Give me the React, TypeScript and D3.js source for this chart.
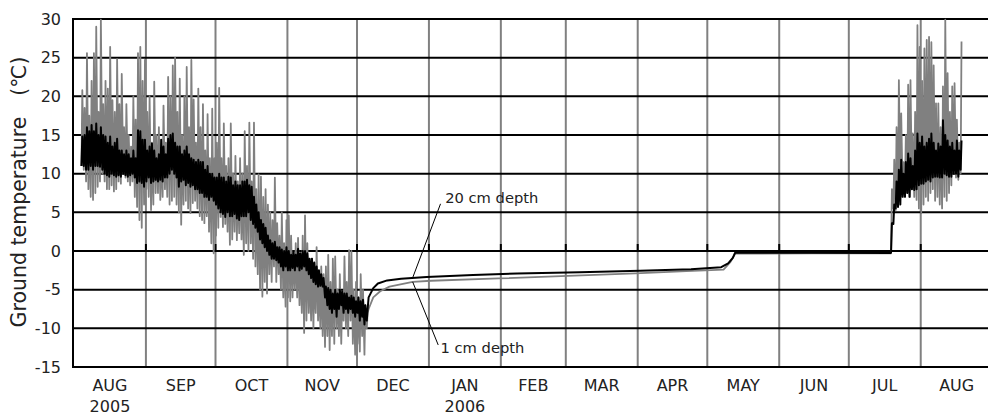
import * as d3 from "d3";

// month labels along the bottom, first one is Aug 2005
const monthLabels = ["AUG", "SEP", "OCT", "NOV", "DEC", "JAN", "FEB", "MAR", "APR", "MAY", "JUN", "JUL", "AUG"];
const yearLabels: [number, string][] = [[0, "2005"], [5, "2006"]];
const yTicks = [-15, -10, -5, 0, 5, 10, 15, 20, 25, 30];

// autumn 2005: daily min / max, starting 2005-08-04
const autumnStart = "2005-08-04";
const shallowAutumnMax = [
  20.8, 18.5, 25.6, 17.5, 22, 25.6, 29, 18, 29.9, 19,
  22, 21, 26.4, 19.5, 18, 24.8, 19, 22.9, 16, 19,
  15, 13.5, 20, 17, 25.6, 26.4, 22, 24.7, 18, 20,
  14, 21.9, 15, 16, 13, 18.8, 14, 22.5, 20, 24,
  25, 18, 22.3, 15, 20, 23.8, 16, 24.7, 19.6, 14,
  21, 16, 19, 13, 17.7, 12, 18.4, 12, 14, 21.1,
  12, 16.5, 11, 12, 16.5, 10, 12.3, 9, 12, 10,
  15.5, 11, 16.6, 9, 16.6, 8, 9.9, 9.6, 7, 8,
  6, 5, 4, 9.5, 3.6, 2, 5, 1, 4, 4.6,
  2, 0, 1, 1.7, -1, 2, 4.6, 1, -2, -1,
  -3, 0.5, -4, -2, -3, -2, -0.5, -4, -1, -0.7,
  -5, -3, -6, -0.7, -4, 0.1, 0, -5, -4, -6,
  -3, -5, -7, -8,
];
const shallowAutumnMin = [
  11, 10.5, 9, 8, 7, 6.6, 7.5, 8.3, 9, 10,
  9, 8, 8, 8.5, 7.7, 8, 9, 8.7, 10, 9.5,
  9, 8.5, 9, 7, 5.7, 4, 3, 6, 8, 7,
  5.3, 6, 7.5, 7.5, 6.6, 7, 8, 7, 6, 6.5,
  7, 6, 5, 3.4, 6, 6.5, 5.5, 4.9, 6.2, 6.5,
  5.5, 4.5, 4, 3.6, 4.5, 2.5, 1, -0.3, 2, 3,
  4.4, 3.1, 3.5, 2.5, 0.8, 1.5, 2.5, 1.4, 2.3, 1.5,
  -0.5, 1, 0, 1, -1, -2, -3, -5, -5.9, -4,
  -5.5, -3, -4, -2, -4, -3, -5, -6, -7.2, -6,
  -6.5, -6, -5, -6, -7, -8, -10.6, -9, -8, -9,
  -10, -8, -9, -10, -11, -12.4, -11, -12.8, -11, -12,
  -10, -11, -12, -9, -10, -11, -9, -12, -13.4, -12,
  -13, -11, -13.4, -10,
];
const deepAutumnMax = [
  14.8, 15, 16, 15.5, 16.3, 15.5, 16.5, 15, 16, 15,
  14.8, 14, 14.8, 13.5, 14, 14.5, 13, 13, 12.5, 13,
  12.5, 12, 13, 12, 15.6, 15.5, 14.4, 14.4, 13, 13.5,
  13.9, 13, 12, 12.5, 14.4, 13.5, 12.5, 14.5, 15, 15.2,
  14, 13.5, 13.5, 12.5, 13, 13.5, 12.5, 12, 11.8, 11.5,
  11.8, 11.5, 11.5, 10.5, 11, 10, 10, 9.5, 9.5, 10,
  9.5, 9.5, 9, 9.6, 9.5, 8.5, 9, 8.5, 8.5, 9,
  9, 9.2, 8.5, 8.3, 7, 6, 5, 4, 3.5, 3,
  2, 1.4, 1, 1.2, 0.5, 0.5, 0.2, 0, 0.5, 0,
  -0.5, 0, -0.5, 0.3, -0.3, 0, 0, -0.3, -1, -1,
  -1.5, -2, -2.5, -3, -3.5, -4.6, -4.8, -5, -5.5, -5,
  -5.5, -5, -5.2, -5.5, -5.5, -6, -5.8, -6, -6.5, -6,
  -6.5, -6.3, -7, -7.5,
];
const deepAutumnMin = [
  11, 11, 10.5, 10.5, 11, 10.5, 11, 11, 10.9, 10.5,
  10, 9.8, 9.6, 10, 9.8, 9.6, 9.8, 9.6, 10, 9.8,
  9.6, 9.8, 10, 9.5, 8.8, 9, 8.8, 8.3, 9, 9.5,
  8.8, 9, 9.2, 9, 9.2, 9, 9.5, 9.5, 10, 10.5,
  10, 9.5, 8.3, 9, 9.2, 8.5, 8.8, 8.3, 8.5, 8,
  8, 7.5, 7.5, 7, 7, 6.6, 7, 6.5, 6, 5.5,
  5, 4.8, 4.4, 5, 4.5, 4.5, 4.8, 4.2, 4, 4.5,
  4.5, 4.5, 5, 4, 3.5, 3, 2.5, 1.5, 1, 0.5,
  0, -0.5, -1, -1, -1.2, -1.5, -2, -2.5, -2, -2.5,
  -2.5, -2.2, -2.5, -2, -2.5, -2.3, -2, -2.5, -3, -3.5,
  -4, -4.3, -4.6, -4.5, -4.6, -6, -7, -7.5, -8, -7.5,
  -8.5, -7.5, -7, -8, -7.5, -8, -7.5, -8, -8.5, -8,
  -9, -8.5, -9.5, -9,
];

// winter: snow-covered, smooth readings
const shallowWinter: [string, number][] = [
  ["2005-12-06", -7.5], ["2005-12-08", -6.0], ["2005-12-11", -5.2], ["2005-12-15", -4.6],
  ["2005-12-25", -4.0], ["2006-01-02", -3.85], ["2006-01-31", -3.55], ["2006-02-27", -3.25],
  ["2006-03-31", -2.9], ["2006-04-22", -2.6], ["2006-05-08", -2.4], ["2006-05-11", -1.4],
  ["2006-05-13", -0.35], ["2006-06-15", -0.3], ["2006-07-19", -0.3],
];
const deepWinter: [string, number][] = [
  ["2005-12-06", -6.0], ["2005-12-08", -4.8], ["2005-12-10", -4.2], ["2005-12-14", -3.8],
  ["2005-12-20", -3.6], ["2005-12-31", -3.35], ["2006-01-20", -3.1], ["2006-02-08", -2.9],
  ["2006-03-07", -2.75], ["2006-04-02", -2.55], ["2006-04-24", -2.35], ["2006-05-07", -2.1],
  ["2006-05-10", -1.6], ["2006-05-12", -0.9], ["2006-05-13", -0.22], ["2006-06-15", -0.22],
  ["2006-07-19", -0.25],
];

// summer 2006: daily min / max, starting 2006-07-19
const summerStart = "2006-07-19";
const shallowSummerMax = [
  8, 11.8, 16, 22.1, 17.8, 11.5, 15, 21.5, 22.1, 15.2,
  18, 29.2, 26.4, 22, 26.2, 27.3, 27.7, 27, 24, 19.1,
  19.1, 16, 21.3, 29.9, 23, 18, 21.3, 21.7, 17, 14,
  27.1,
];
const shallowSummerMin = [
  -0.3, 5.5, 5.3, 6.2, 7.5, 7.5, 8, 7.5, 7, 8,
  7, 6.6, 5.5, 4.9, 6, 7, 6.5, 7.5, 8, 6.5,
  7, 6, 5.5, 7, 6.5, 7.5, 8.5, 10, 9.5, 9.2,
  10,
];
const deepSummerMax = [
  3.6, 6, 9, 10.5, 11.8, 10, 11.5, 12.6, 12, 11,
  13, 15.2, 14, 14.8, 13.5, 14, 14.5, 15.2, 14, 13,
  13.9, 13.5, 16.9, 15, 14.3, 13.5, 14, 13, 14.3, 13,
  14.3,
];
const deepSummerMin = [
  -0.2, 3.5, 5.5, 5.7, 6, 7, 7, 7.5, 7, 8,
  7.9, 8, 8.5, 8.7, 8.7, 9, 9.2, 9, 9.5, 9.6,
  9.6, 9.5, 9.5, 10, 9.8, 9.6, 9.6, 10, 10, 9.6,
  10.5,
];

// label anchors: [date, value] for text and the tip of the leader line
const deepLabel = { text: "20 cm depth", at: ["2006-01-08", 6.2], from: ["2006-01-06", 6.1], tip: ["2005-12-25", -3.45] };
const shallowLabel = { text: "1 cm depth", at: ["2006-01-06", -13.2], from: ["2006-01-05", -12.15], tip: ["2005-12-25", -4.0] };

type Pt = { t: Date; v: number };
const day = (s: string) => new Date(s + "T00:00:00Z");
const HOUR = 3600 * 1000;
const DAY = 24 * HOUR;

function daily(start: string, mins: number[], maxs: number[]): Pt[] {
  const t0 = day(start).getTime();
  const out: Pt[] = [];
  mins.forEach((m, i) => {
    out.push({ t: new Date(t0 + i * DAY + 5 * HOUR), v: m });
    out.push({ t: new Date(t0 + i * DAY + 14 * HOUR), v: maxs[i] });
  });
  return out;
}

const shallow: Pt[] = [
  ...daily(autumnStart, shallowAutumnMin, shallowAutumnMax),
  ...shallowWinter.map(([d, v]) => ({ t: day(d), v })),
  ...daily(summerStart, shallowSummerMin, shallowSummerMax),
];
const deep: Pt[] = [
  ...daily(autumnStart, deepAutumnMin, deepAutumnMax),
  ...deepWinter.map(([d, v]) => ({ t: day(d), v })),
  ...daily(summerStart, deepSummerMin, deepSummerMax),
];

export default function App() {
  const width = 988;
  const height = 416;
  const left = 74;
  const top = 19;
  const bottom = 367;

  const x = d3.scaleUtc().domain([day("2005-08-01"), day("2006-08-30")]).range([left, width]);
  const y = d3.scaleLinear().domain([-15, 30]).range([bottom, top]);

  const line = d3.line<Pt>().x(d => x(d.t)).y(d => y(d.v));
  const boundaries = d3.utcMonth.range(day("2005-09-01"), day("2006-08-02"));
  const font = "'DejaVu Sans', Verdana, sans-serif";

  const monthStart = (i: number) => d3.utcMonth.offset(day("2005-08-01"), i);
  const monthCenter = (i: number) => (x(monthStart(i)) + x(monthStart(i + 1))) / 2;

  const pos = (p: (string | number)[]) => [x(day(p[0] as string)), y(p[1] as number)];

  return (
    <div style={{ position: "absolute", left: 0, top: 0 }}>
      <svg width={width} height={height} style={{ display: "block", background: "#fff" }}>
        {/* vertical month gridlines */}
        {boundaries.map(b => (
          <line key={+b} x1={x(b)} x2={x(b)} y1={top} y2={bottom} stroke="#808080" strokeWidth={2} />
        ))}
        {/* horizontal gridlines */}
        {yTicks.map(t => (
          <line key={t} x1={left - 1} x2={width} y1={y(t)} y2={y(t)} stroke="#000" strokeWidth={2} />
        ))}
        {/* ticks on the zero line */}
        {boundaries.map(b => (
          <line key={"t" + +b} x1={x(b)} x2={x(b)} y1={y(0)} y2={y(0) - 7} stroke="#000" strokeWidth={2} />
        ))}
        <line x1={left - 1} x2={left - 1} y1={top - 1} y2={bottom + 1} stroke="#000" strokeWidth={2} />

        <path d={line(shallow) ?? ""} fill="none" stroke="#808080" strokeWidth={1.8} strokeLinejoin="round" />
        <path d={line(deep) ?? ""} fill="none" stroke="#000" strokeWidth={2} strokeLinejoin="round" />

        {/* y tick labels */}
        {yTicks.map(t => (
          <text key={"l" + t} x={61} y={y(t)} dy="0.36em" textAnchor="end" fontSize={16} fill="#222" fontFamily={font}>
            {t}
          </text>
        ))}
        <text
          transform={`translate(26,192) rotate(-90)`}
          textAnchor="middle"
          fontSize={20.5}
          fill="#222"
          fontFamily={font}
        >
          Ground temperature{"\u3000"}(℃)
        </text>

        {/* month and year labels */}
        {monthLabels.map((m, i) => (
          <text key={"m" + i} x={monthCenter(i)} y={391} textAnchor="middle" fontSize={16} fill="#222" fontFamily={font}>
            {m}
          </text>
        ))}
        {yearLabels.map(([i, s]) => (
          <text key={"y" + s} x={monthCenter(i)} y={412} textAnchor="middle" fontSize={16} fill="#222" fontFamily={font}>
            {s}
          </text>
        ))}

        {/* series labels */}
        {[deepLabel, shallowLabel].map(l => {
          const [tx, ty] = pos(l.at);
          const [fx, fy] = pos(l.from);
          const [px, py] = pos(l.tip);
          return (
            <g key={l.text}>
              <line x1={fx} y1={fy} x2={px} y2={py} stroke="#000" strokeWidth={1} />
              <text x={tx} y={ty} fontSize={14.7} fill="#222" fontFamily={font}>
                {l.text}
              </text>
            </g>
          );
        })}
      </svg>
    </div>
  );
}
